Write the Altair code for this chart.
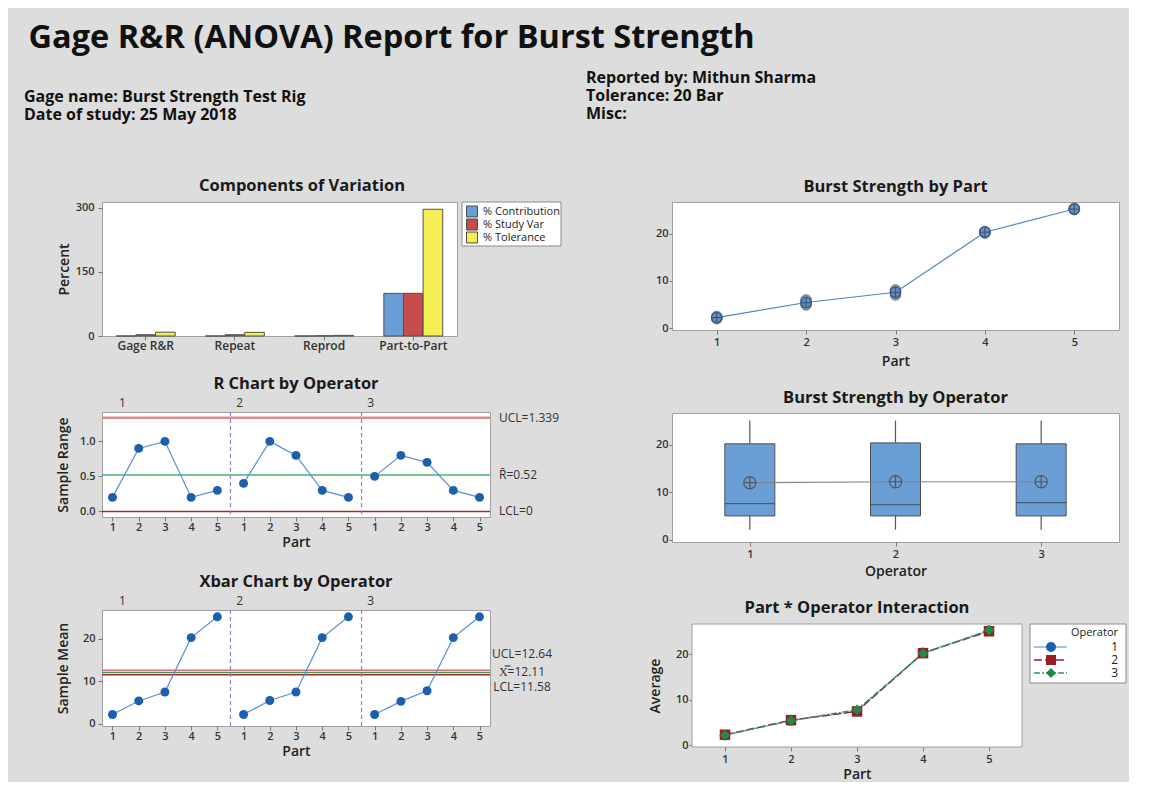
import altair as alt
import pandas as pd

FONT = "Open Sans"
BG = "#dcdddc"

# ---------------- data ----------------
report_title = "Gage R&R (ANOVA) Report for Burst Strength"
info_left = ["Gage name: Burst Strength Test Rig", "Date of study: 25 May 2018"]
info_right = ["Reported by: Mithun Sharma", "Tolerance: 20 Bar", "Misc:"]

sources = ["Gage R&R", "Repeat", "Reprod", "Part-to-Part"]
measures = ["% Contribution", "% Study Var", "% Tolerance"]
pct_contribution = [0.1, 0.1, 0.0, 99.9]
pct_study_var = [3.0, 3.0, 0.5, 100.0]
pct_tolerance = [9.0, 8.5, 1.5, 297.0]

operators = ["1", "2", "3"]
parts = [1, 2, 3, 4, 5]

sample_range = [0.2, 0.9, 1.0, 0.2, 0.3,
                0.4, 1.0, 0.8, 0.3, 0.2,
                0.5, 0.8, 0.7, 0.3, 0.2]
limit_names = ["UCL", "CL", "LCL"]
r_limit_values = [1.339, 0.52, 0.0]
r_limit_labels = ["UCL=1.339", "R\u0304=0.52", "LCL=0"]

sample_mean = [2.2, 5.4, 7.5, 20.3, 25.2,
               2.2, 5.5, 7.5, 20.3, 25.2,
               2.2, 5.3, 7.8, 20.3, 25.2]
x_limit_values = [12.64, 12.11, 11.58]
x_limit_labels = ["UCL=12.64", "X\u033F=12.11", "LCL=11.58"]

operator_breaks = [5.5, 10.5]

# individual readings by part (parts 1..5), per operator and trial
op1_trial1 = [2.1, 5.0, 7.0, 20.2, 25.1]
op1_trial2 = [2.3, 5.9, 8.0, 20.4, 25.4]
op2_trial1 = [2.0, 5.0, 7.1, 20.1, 25.1]
op2_trial2 = [2.4, 6.0, 7.9, 20.4, 25.3]
op3_trial1 = [2.0, 4.9, 7.4, 20.2, 25.1]
op3_trial2 = [2.5, 5.7, 8.1, 20.5, 25.3]

# boxplot statistics by operator
box_min = [2.1, 2.1, 2.1]
box_q1 = [5.0, 5.0, 5.0]
box_median = [7.6, 7.4, 7.8]
box_q3 = [20.2, 20.4, 20.2]
box_max = [25.1, 25.1, 25.1]
box_mean = [12.0, 12.2, 12.2]

# part * operator averages
avg_op1 = [2.2, 5.4, 7.5, 20.3, 25.1]
avg_op2 = [2.3, 5.5, 7.4, 20.2, 25.0]
avg_op3 = [2.2, 5.4, 7.8, 20.1, 25.3]

PLUS_CIRCLE = "M-1,0A1,1,0,1,0,1,0A1,1,0,1,0,-1,0ZM-1,0L1,0M0,-1L0,1"
VIEW = alt.ViewBackground(fill="white", stroke="#a0a0a0", strokeWidth=1)
NOVIEW = alt.ViewBackground(fill="transparent", stroke="transparent")
TITLE_SIZE = 16.5
INFO_SIZE = 16
cov_colors = ["#6a9fd6", "#c94c4c", "#f5ef55"]


def one_text(text, x, y, size, weight="bold", align="left", baseline="alphabetic",
             color="#111111", opacity=1.0):
    return alt.Chart(pd.DataFrame({"t": [text]})).mark_text(
        align=align, baseline=baseline, font=FONT, fontSize=size, fontWeight=weight,
        color=color, opacity=opacity
    ).encode(x=alt.value(x), y=alt.value(y), text="t:N")


# ---------------- components of variation (+ left header block) ----------------
cov_df = pd.DataFrame({
    "Source": sources * 3,
    "Measure": [m for m in measures for _ in sources],
    "Percent": pct_contribution + pct_study_var + pct_tolerance,
})
cov_layers = [
    alt.Chart(cov_df).mark_bar(stroke="#505050", strokeWidth=1).encode(
        x=alt.X("Source:N", sort=sources, title=None,
                scale=alt.Scale(paddingInner=0.34, paddingOuter=0.16),
                axis=alt.Axis(labelAngle=0, tickSize=4, labelPadding=0, labelFontSize=12)),
        xOffset=alt.XOffset("Measure:N", sort=measures),
        y=alt.Y("Percent:Q", title="Percent",
                scale=alt.Scale(domain=[0, 314], nice=False),
                axis=alt.Axis(values=[0, 150, 300], tickSize=4, labelPadding=4,
                              minExtent=24, maxExtent=24, titlePadding=7)),
        color=alt.Color("Measure:N", sort=measures,
                        scale=alt.Scale(domain=measures, range=cov_colors), legend=None),
    )
]
# manual legend
leg_m = pd.DataFrame({"Measure": measures})
cov_layers.append(alt.Chart(leg_m.head(1)).mark_rect(fill="white", stroke="#8c8c8c", strokeWidth=1)
                  .encode(x=alt.value(360), x2=alt.value(459), y=alt.value(0), y2=alt.value(44)))
for i, m in enumerate(measures):
    yy = 9.5 + 13 * i
    sub = alt.Chart(leg_m).transform_filter(alt.datum.Measure == m)
    cov_layers.append(sub.mark_square(size=120, color=cov_colors[i], stroke="#4d4d4d",
                                      strokeWidth=1, opacity=1)
                      .encode(x=alt.value(370), y=alt.value(yy)))
    cov_layers.append(sub.mark_text(align="left", baseline="middle", font=FONT, fontSize=11,
                                    color="#222222")
                      .encode(x=alt.value(381), y=alt.value(yy), text="Measure:N"))
# panel title
cov_layers.append(one_text("Components of Variation", 200, -16, TITLE_SIZE, align="center",
                           baseline="middle", color="#1a1a1a"))
# header (left block), positioned relative to this panel
for i, t in enumerate(info_left):
    cov_layers.append(one_text(t, -78, -100.3 + 18.3 * i, INFO_SIZE))
cov_layers.append(one_text(info_right[0], -78, -119.3, INFO_SIZE, opacity=0))
cov = alt.layer(*cov_layers).properties(width=355, height=134, view=VIEW)

# ---------------- control charts ----------------
sample_idx = list(range(1, 16))
op_col = [o for o in operators for _ in parts]
part_col = parts * 3


def ctrl_chart(values, lim_values, lim_labels, lim_colors, lim_widths, lab_dy,
               lab_x, lab_align, ydom, yvals, yfmt, ytitle, ttl, h):
    df = pd.DataFrame({"Sample": sample_idx, "Operator": op_col, "Part": part_col, "Value": values})
    lim = pd.DataFrame({"Name": limit_names, "Value": lim_values, "Label": lim_labels})
    brk = pd.DataFrame({"Sample": operator_breaks})
    first = df.groupby("Operator", as_index=False)["Sample"].min()

    xscale = alt.Scale(domain=[0.6, 15.4], nice=False, zero=False)
    xaxis = alt.Axis(values=sample_idx, labelExpr="((datum.value - 1) % 5) + 1",
                     tickSize=4, labelPadding=0, titlePadding=3)
    X = alt.X("Sample:Q", title="Part", scale=xscale, axis=xaxis)
    yax = dict(values=yvals, tickSize=4, labelPadding=3, minExtent=24, maxExtent=24,
               titlePadding=8)
    if yfmt:
        yax["format"] = yfmt
    Y = alt.Y("Value:Q", title=ytitle, scale=alt.Scale(domain=ydom, nice=False, zero=False),
              axis=alt.Axis(**yax))

    layers = []
    for name, col, w in zip(limit_names, lim_colors, lim_widths):
        layers.append(alt.Chart(lim).transform_filter(alt.datum.Name == name)
                      .mark_rule(color=col, strokeWidth=w).encode(y=Y))
    layers.append(alt.Chart(brk).mark_rule(color="#8a7fd4", strokeDash=[4, 3], strokeWidth=1.2)
                  .encode(x=X))
    layers.append(alt.Chart(df).mark_line(color="#5b8fd0", strokeWidth=1.2)
                  .encode(x=X, y=Y, detail="Operator:N"))
    layers.append(alt.Chart(df).mark_circle(size=80, color="#1b5fae", opacity=1)
                  .encode(x=X, y=Y))
    for ops, dx in ((["1"], 10), (["2", "3"], -4)):
        layers.append(alt.Chart(first)
                      .transform_filter(alt.FieldOneOfPredicate(field="Operator", oneOf=ops))
                      .mark_text(dx=dx, fontSize=12, color="#333333", baseline="middle", font=FONT)
                      .encode(x=X, y=alt.value(-9), text="Operator:N"))
    for name, dy in zip(limit_names, lab_dy):
        layers.append(alt.Chart(lim).transform_filter(alt.datum.Name == name)
                      .mark_text(align=lab_align, dy=dy, baseline="middle", fontSize=12,
                                 color="#333333", font=FONT)
                      .encode(x=alt.value(lab_x), y=Y, text="Label:N"))
    return alt.layer(*layers).properties(width=388, height=h, view=VIEW,
                                         title=alt.TitleParams(ttl, offset=5))


rchart = ctrl_chart(sample_range, r_limit_values, r_limit_labels,
                    ["#d98c8c", "#47b36b", "#b22222"], [2.5, 1.5, 1.5], [0, 0, 0],
                    397, "left", [-0.08, 1.42], [0, 0.5, 1.0], ".1f", "Sample Range",
                    "R Chart by Operator", 105)
xchart = ctrl_chart(sample_mean, x_limit_values, x_limit_labels,
                    ["#d0707a", "#3a9a5a", "#a52a2a"], [1.5, 1.5, 1.5], [-16, 0, 12],
                    420, "center", [-0.5, 26.8], [0, 10, 20], "", "Sample Mean",
                    "Xbar Chart by Operator", 116)

# ---------------- burst strength by part (+ right header block) ----------------
readings = {("1", 1): op1_trial1, ("1", 2): op1_trial2,
            ("2", 1): op2_trial1, ("2", 2): op2_trial2,
            ("3", 1): op3_trial1, ("3", 2): op3_trial2}
rows = []
for (op, tr), vals in readings.items():
    for p, v in zip(parts, vals):
        rows.append({"Operator": op, "Trial": tr, "Part": p, "Value": v})
read_df = pd.DataFrame(rows)

PX = alt.X("Part:Q", title="Part", scale=alt.Scale(domain=[0.5, 5.5], nice=False, zero=False),
           axis=alt.Axis(values=parts, format="d", tickSize=4, labelPadding=2, titlePadding=7))
PY_scale = alt.Scale(domain=[-0.4, 26.7], nice=False, zero=False)
PY_axis = alt.Axis(values=[0, 10, 20], tickSize=3, labelPadding=1, minExtent=24, maxExtent=24)

bp_layers = [
    alt.Chart(read_df).mark_circle(size=110, color="#7d8ea3", opacity=0.6, stroke="#5d6e83",
                                   strokeWidth=1)
    .encode(x=PX, y=alt.Y("Value:Q", title=None, scale=PY_scale, axis=PY_axis)),
    alt.Chart(read_df).mark_line(color="#4f86c6", strokeWidth=1.2)
    .encode(x=PX, y=alt.Y("mean(Value):Q", title=None, scale=PY_scale, axis=PY_axis)),
    alt.Chart(read_df).mark_point(shape=PLUS_CIRCLE, size=110, filled=False, color="#2b5a94",
                                  strokeWidth=1.2, opacity=1)
    .encode(x=PX, y=alt.Y("mean(Value):Q", title=None, scale=PY_scale, axis=PY_axis)),
    one_text("Burst Strength by Part", 223.5, -15, TITLE_SIZE, align="center",
             baseline="middle", color="#1a1a1a"),
]
for i, t in enumerate(info_right):
    bp_layers.append(one_text(t, -86, -119.3 + 18.3 * i, INFO_SIZE))
bp = alt.layer(*bp_layers).properties(width=447, height=128, view=VIEW)

# ---------------- burst strength by operator ----------------
box_df = pd.DataFrame({"Operator": [int(o) for o in operators], "Min": box_min, "Q1": box_q1,
                       "Median": box_median, "Q3": box_q3, "Max": box_max, "Mean": box_mean})
OX = alt.X("Operator:Q", title="Operator",
           scale=alt.Scale(domain=[0.5, 3.5], nice=False, zero=False),
           axis=alt.Axis(values=[1, 2, 3], format="d", tickSize=4, labelPadding=2, titlePadding=5))
OY_scale = alt.Scale(domain=[-0.5, 26.7], nice=False, zero=False)


def oy(field):
    return alt.Y(f"{field}:Q", title=None, scale=OY_scale, axis=PY_axis)


bo = alt.layer(
    alt.Chart(box_df).mark_rule(color="#555555", strokeWidth=1.2)
    .encode(x=OX, y=oy("Min"), y2="Q1:Q"),
    alt.Chart(box_df).mark_rule(color="#555555", strokeWidth=1.2)
    .encode(x=OX, y=oy("Q3"), y2="Max:Q"),
    alt.Chart(box_df).mark_bar(size=50, color="#6a9fd6", stroke="#4a4f57", strokeWidth=1)
    .encode(x=OX, y=oy("Q1"), y2="Q3:Q"),
    alt.Chart(box_df).mark_tick(orient="horizontal", size=50, thickness=1.2, color="#3a3f47")
    .encode(x=OX, y=oy("Median")),
    alt.Chart(box_df).mark_line(color="#858585", strokeWidth=1.2)
    .encode(x=OX, y=oy("Mean")),
    alt.Chart(box_df).mark_point(shape=PLUS_CIRCLE, size=150, filled=False, color="#555555",
                                 strokeWidth=1.2, opacity=1)
    .encode(x=OX, y=oy("Mean")),
).properties(width=447, height=129, title="Burst Strength by Operator", view=VIEW)

# ---------------- interaction ----------------
int_rows = []
for op, vals in zip(operators, [avg_op1, avg_op2, avg_op3]):
    for p, v in zip(parts, vals):
        int_rows.append({"Operator": op, "Part": p, "Average": v})
int_df = pd.DataFrame(int_rows)

line_cols = ["#7fb2e5", "#9b1c22", "#2a9a55"]
mark_cols = ["#1c5fb0", "#9b1c22", "#1e8a46"]
dashes = [[1, 0], [8, 3], [6, 2, 2, 2]]
shapes = ["circle", "square", "diamond"]
IH = 123

IX = alt.X("Part:Q", title="Part",
           scale=alt.Scale(domain=[0.5, 5.5], nice=False, zero=False, range=[20, 350]),
           axis=alt.Axis(values=parts, format="d", tickSize=4, labelPadding=2, titlePadding=3))
IY = alt.Y("Average:Q", title="Average", scale=alt.Scale(domain=[-0.4, 26.6], nice=False, zero=False),
           axis=alt.Axis(values=[0, 10, 20], tickSize=3, labelPadding=1, minExtent=22,
                         maxExtent=22, titlePadding=8, offset=-20))

leg_df = pd.DataFrame({"Operator": operators})
ilayers = [
    alt.Chart(leg_df.head(1)).mark_rect(fill="white", stroke="#a0a0a0", strokeWidth=1)
    .encode(x=alt.value(20), x2=alt.value(350), y=alt.value(0), y2=alt.value(IH)),
    alt.Chart(int_df).mark_line(strokeWidth=1.3).encode(
        x=IX, y=IY,
        stroke=alt.Stroke("Operator:N", scale=alt.Scale(domain=operators, range=line_cols), legend=None),
        strokeDash=alt.StrokeDash("Operator:N", scale=alt.Scale(domain=operators, range=dashes), legend=None)),
    alt.Chart(int_df).mark_point(filled=True, size=110, opacity=1, strokeWidth=0).encode(
        x=IX, y=IY,
        fill=alt.Fill("Operator:N", scale=alt.Scale(domain=operators, range=mark_cols), legend=None),
        shape=alt.Shape("Operator:N", scale=alt.Scale(domain=operators, range=shapes), legend=None)),
]
# manual legend box
ilayers.append(alt.Chart(leg_df.head(1)).mark_rect(fill="white", stroke="#8c8c8c", strokeWidth=1)
               .encode(x=alt.value(358), x2=alt.value(454), y=alt.value(0), y2=alt.value(59)))
ilayers.append(one_text("Operator", 446, 9, 11, weight="normal", align="right",
                        baseline="middle", color="#222222"))
for i, op in enumerate(operators):
    yy = 23 + 13 * i
    sub = alt.Chart(leg_df).transform_filter(alt.datum.Operator == op)
    ilayers.append(sub.mark_rule(color=line_cols[i], strokeDash=dashes[i], strokeWidth=1.5)
                   .encode(x=alt.value(362), x2=alt.value(395), y=alt.value(yy)))
    ilayers.append(sub.mark_point(shape=shapes[i], filled=True, size=100, color=mark_cols[i], opacity=1)
                   .encode(x=alt.value(379), y=alt.value(yy)))
    ilayers.append(sub.mark_text(align="right", baseline="middle", fontSize=12, font=FONT,
                                 color="#222222")
                   .encode(x=alt.value(446), y=alt.value(yy), text="Operator:N"))

inter = alt.layer(*ilayers).properties(
    width=350, height=IH, view=NOVIEW,
    title=alt.TitleParams("Part * Operator Interaction", dx=10))

# ---------------- layout ----------------
left = alt.concat(cov, rchart, xchart, columns=1, spacing=23, align="each")
right = alt.concat(bp, bo, inter, columns=1, spacing=20, align="each")
chart = alt.hconcat(left, right, spacing=23).properties(
    background=BG,
    padding={"left": 15, "top": 13, "right": 2, "bottom": 0},
    title=alt.TitleParams(report_title, anchor="start", frame="bounds", dx=5, offset=-11,
                          fontSize=32.5, fontWeight="bold", baseline="alphabetic",
                          color="#111111", font=FONT),
).configure_axis(
    domain=False, grid=False, tickColor="#7a7a7a", labelFont=FONT, labelFontSize=11,
    labelFontWeight=600, labelColor="#333333", titleFont=FONT, titleFontSize=14,
    titleFontWeight=600, titleColor="#222222", labelFlush=False, labelOverlap=False
).configure_title(
    font=FONT, fontSize=TITLE_SIZE, fontWeight="bold", color="#1a1a1a", anchor="middle",
    frame="group", offset=7
).configure_view(fill="white", stroke="#a0a0a0")

chart.save("out.html", embed_options={"renderer": "svg", "actions": False})
